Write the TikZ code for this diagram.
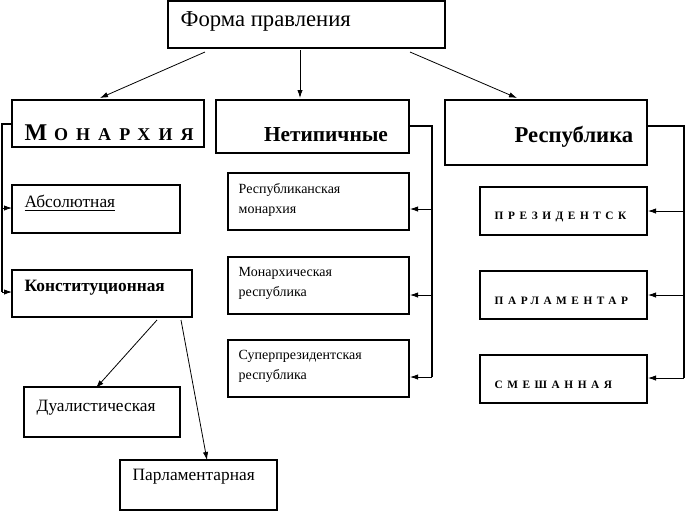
\documentclass[tikz,border=0pt]{standalone}
\usepackage{fontspec}
\setmainfont{Liberation Serif}
\usetikzlibrary{arrows.meta}
\begin{document}
\begin{tikzpicture}[x=0.75pt,y=-0.75pt,
 bx/.style={draw,line width=0.8pt},
 ar/.style={-{Latex[length=6pt,width=4pt]},line width=0.6pt},
 ln/.style={line width=0.8pt},
 sp/.style={font=\fontsize{8.5}{10}\selectfont\bfseries\addfontfeature{LetterSpace=40},anchor=west}]
\useasboundingbox (0,0) rectangle (686,512);
\draw[bx] (168,1) rectangle (445,48);
\node[anchor=west,font=\fontsize{17}{20}\selectfont] (top) at (176,21) {Форма правления};
\draw[bx] (12,100) rectangle (204,147);
\node[anchor=west,font=\bfseries\addfontfeature{LetterSpace=45}] (mon) at (20,133) {\fontsize{18}{20}\selectfont М\hspace{5pt}\fontsize{13.5}{20}\selectfont ОНАРХИЯ};
\draw[bx] (216,100) rectangle (409,153);
\node[font=\fontsize{16}{18}\selectfont\bfseries] (net) at (326,135) {Нетипичные};
\draw[bx] (445,100) rectangle (647,165);
\node[font=\fontsize{17}{18}\selectfont\bfseries] (rep) at (574,137) {Республика};
\draw[ar] (205,52) -- (100,98);
\draw[ar] (300,50) -- (300,98);
\draw[ar] (410,52) -- (517,98);
% monarchy children
\draw[bx] (12,185) rectangle (180,233);
\node[anchor=west,font=\fontsize{13}{14}\selectfont] (abs) at (20,203) {\underline{Абсолютная}};
\draw[bx] (12,270) rectangle (192,317);
\node[anchor=west,font=\fontsize{13}{14}\selectfont\bfseries] (kon) at (20,288) {Конституционная};
\draw[ln] (12,124) -- (2,124) -- (2,292);
\draw[ar] (2,208) -- (12,208);
\draw[ar] (2,292) -- (12,292);
\draw[bx] (24,387) rectangle (180,437);
\node[anchor=west,font=\fontsize{13}{14}\selectfont] (dua) at (32,408) {Дуалистическая};
\draw[bx] (120,460) rectangle (277,510);
\node[anchor=west,font=\fontsize{13}{14}\selectfont] (par) at (128,477) {Парламентарная};
\draw[ar] (157,320) -- (96,388);
\draw[ar] (181,320) -- (207,460);
% netipichnye children
\foreach \y/\a/\b [count=\i] in {173/Республиканская/монархия,257/Монархическая/республика,340/Суперпрезидентская/республика}{
 \draw[bx] (228,\y) rectangle (409,\y+57);
 \node[anchor=north west,align=left,font=\fontsize{10.5}{14.5}\selectfont] (n\i) at (234,\y+6) {\a\\\b};
}
\draw[ln] (409,126) -- (432,126) -- (432,377);
\foreach \y in {209,295,377}{\draw[ar] (432,\y) -- (410,\y);}
% republic children
\foreach \y/\t [count=\i] in {187/ПРЕЗИДЕНТСК,271/ПАРЛАМЕНТАР,355/СМЕШАННАЯ}{
 \draw[bx] (480,\y) rectangle (647,\y+48);
 \node[sp] (r\i) at (490,\y+30) {\t};
}
\draw[ln] (647,126) -- (684,126) -- (684,378);
\foreach \y in {211,295,378}{\draw[ar] (684,\y) -- (648,\y);}
\end{tikzpicture}
\end{document}
